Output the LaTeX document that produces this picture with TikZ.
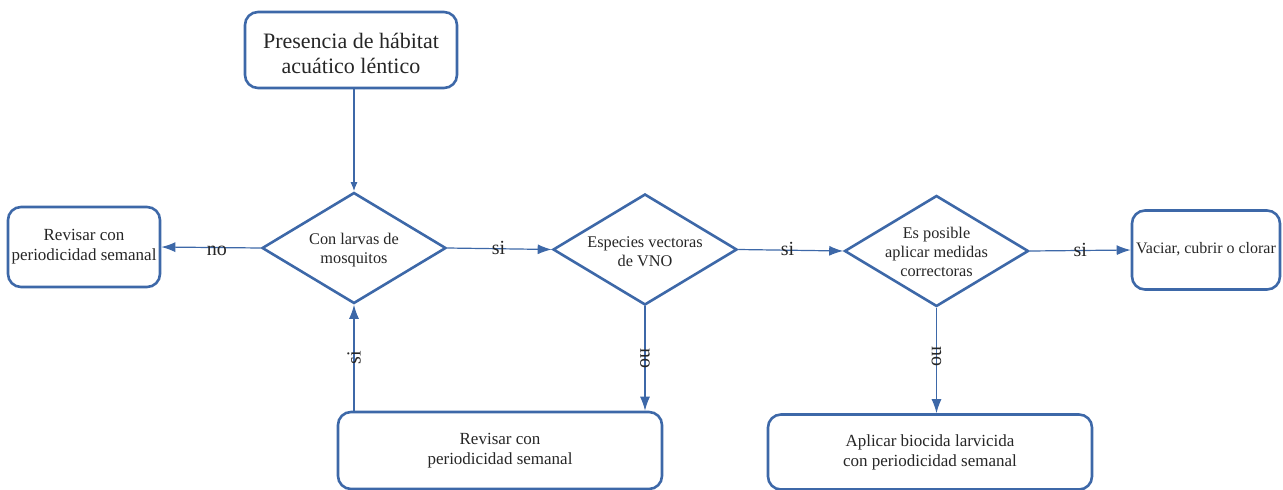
\documentclass[tikz,border=0pt]{standalone}
\usepackage{fontspec}
\setmainfont{Liberation Serif}
\usetikzlibrary{shapes.geometric,arrows.meta}
\definecolor{flowblue}{HTML}{3D68A8}
\definecolor{txt}{HTML}{262626}
\begin{document}
\begin{tikzpicture}[x=1pt,y=-1pt,
  every node/.style={text=txt},
  rbox/.style={draw=flowblue,line width=2.6pt,rounded corners=13pt,align=center,inner sep=0pt,font=\fontsize{17}{20}\selectfont},
  dmd/.style={draw=flowblue,line width=2.6pt,shape=diamond,inner sep=0pt,minimum width=184pt,minimum height=111pt},
  dtext/.style={align=center,inner sep=0pt,font=\fontsize{16.3}{18.8}\selectfont},
  conn/.style={draw=flowblue,line width=1.2pt,-{Latex[length=14pt,width=10pt]}},
  connsmall/.style={draw=flowblue,line width=1.2pt,-{Latex[length=9pt,width=7pt]}},
  lbl/.style={font=\fontsize{20}{22}\selectfont,inner sep=0pt}
]
\useasboundingbox (0,0) rectangle (1283,490);
% boxes
\node[rbox,minimum width=212pt,minimum height=76pt] (top) at (351,50) {};
\node[align=center,inner sep=0pt,font=\fontsize{22}{25}\selectfont] (toptext) at (351,53) {Presencia de hábitat\\acuático léntico};
\node[rbox,minimum width=152pt,minimum height=80pt] (left) at (84,247) {Revisar con\\periodicidad semanal};
\node[rbox,minimum width=148pt,minimum height=79pt] (right) at (1206,250) {};
\node[align=center,inner sep=0pt,font=\fontsize{16}{19}\selectfont] (righttext) at (1206,249) {Vaciar, cubrir o clorar};
\node[rbox,minimum width=324pt,minimum height=77pt] (b1) at (500,450.5) {Revisar con\\periodicidad semanal};
\node[rbox,minimum width=324pt,minimum height=75pt] (b2) at (930,452) {Aplicar biocida larvicida\\con periodicidad semanal};
% diamonds
\node[dmd] (d1) at (354,248) {};
\node[dtext] (d1t) at (354,250) {Con larvas de\\mosquitos};
\node[dmd] (d2) at (645,249.5) {};
\node[dtext] (d2t) at (645,252) {Especies vectoras\\de VNO};
\node[dmd] (d3) at (936.5,251) {};
\node[dtext] (d3t) at (936.5,252) {Es posible\\aplicar medidas\\correctoras};
% connectors
\draw[connsmall] (top.south -| d1.north) -- (d1.north);
\draw[conn] (d1.west) -- node[lbl,pos=0.44,yshift=-3pt] {no} (left.east);
\draw[conn] (d1.east) -- node[lbl,pos=0.49,yshift=1pt] {si} (d2.west);
\draw[conn] (d2.east) -- node[lbl,pos=0.47,yshift=1pt] {si} (d3.west);
\draw[conn] (d3.east) -- node[lbl,pos=0.5,yshift=1pt] {si} (right.west);
\draw[conn] (d2.south) -- node[lbl,pos=0.5,rotate=-90] {no} (d2.south |- b1.north);
\draw[conn] (d3.south) -- node[lbl,pos=0.46,rotate=-90] {no} (d3.south |- b2.north);
\draw[conn] (d1.south |- b1.north) -- node[lbl,pos=0.5,rotate=90] {si} (d1.south);
\end{tikzpicture}
\end{document}
